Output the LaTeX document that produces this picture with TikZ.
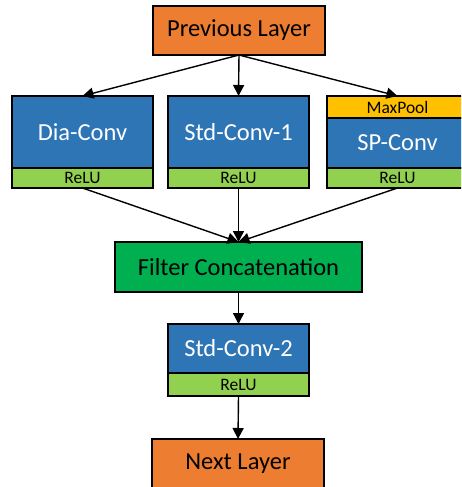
\documentclass[tikz,border=0pt]{standalone}
\usepackage{fontspec}
\setmainfont{Carlito}
\usetikzlibrary{arrows.meta}
\definecolor{layerorange}{HTML}{ED7D31}
\definecolor{convblue}{HTML}{2E75B6}
\definecolor{relugreen}{HTML}{92D050}
\definecolor{poolyellow}{HTML}{FFC000}
\definecolor{concatgreen}{HTML}{00B050}
\begin{document}
\begin{tikzpicture}[x=1pt,y=-1pt,
  box/.style={draw=black,line width=1.6pt,rectangle,inner sep=0pt,outer sep=0pt},
  bigtext/.style={font=\fontsize{24.5}{28}\selectfont},
  smalltext/.style={font=\fontsize{17.5}{20}\selectfont},
  layerbox/.style={box,bigtext,fill=layerorange,minimum width=172pt,minimum height=49pt},
  convbox/.style={box,bigtext,fill=convblue,text=white,minimum width=141pt},
  relubox/.style={box,smalltext,fill=relugreen,minimum width=141pt},
  poolbox/.style={box,smalltext,fill=poolyellow,minimum width=141pt,minimum height=22pt},
  concatbox/.style={box,bigtext,fill=concatgreen,minimum width=247pt,minimum height=50pt},
  link/.style={line width=1.4pt,-{Triangle[length=11pt,width=11pt]}}]
\clip (0,0) rectangle (461,487);
\fill[white] (0,0) rectangle (461,487);

\node[layerbox] (prev) at (239,30.5) {Previous Layer};

\node[convbox,minimum height=72pt] (dia) at (82.5,132) {Dia-Conv};
\node[relubox,minimum height=20pt] (relu1) at (82.5,178) {ReLU};

\node[convbox,minimum height=72pt] (std1) at (238.5,132) {Std-Conv-1};
\node[relubox,minimum height=20pt] (relu2) at (238.5,178) {ReLU};

\node[poolbox] (pool) at (397.5,107) {MaxPool};
\node[convbox,minimum height=50pt] (sp) at (397.5,143) {SP-Conv};
\node[relubox,minimum height=20pt] (relu3) at (397.5,178) {ReLU};

\node[concatbox] (concat) at (238.5,267) {Filter Concatenation};

\node[convbox,minimum height=49pt] (std2) at (238.5,348.5) {Std-Conv-2};
\node[relubox,minimum height=23pt] (relu4) at (238.5,384.5) {ReLU};

\node[layerbox] (next) at (238,463.5) {Next Layer};

\draw[link] (prev.south) -- (dia.north);
\draw[link] (prev.south) -- (std1.north);
\draw[link] (prev.south) -- (pool.north);

\draw[link] (relu1.south) -- (concat.north);
\draw[link] (relu2.south) -- (concat.north);
\draw[link] (relu3.south) -- (concat.north);

\draw[link] (concat.south) -- (std2.north);
\draw[link] (relu4.south) -- (next.north);
\end{tikzpicture}
\end{document}
